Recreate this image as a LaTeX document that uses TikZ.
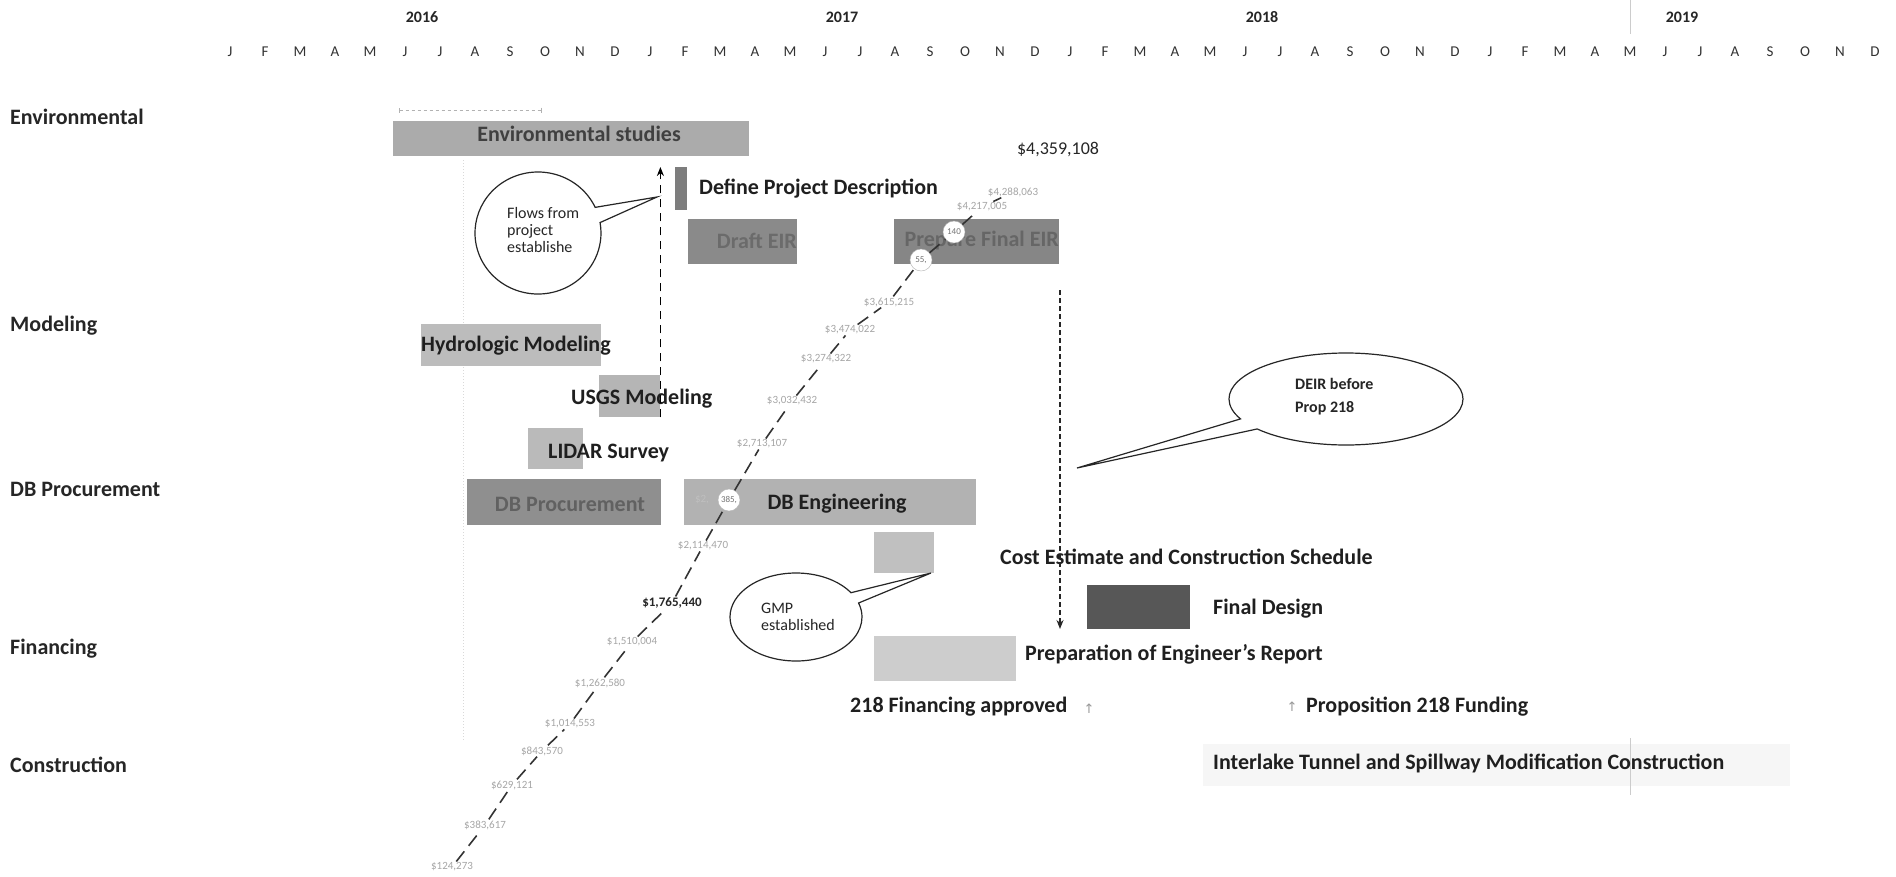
\documentclass[tikz,border=0pt]{standalone}
\usepackage{fontspec}
\setmainfont{Carlito}
\newfontfamily\djv{DejaVu Sans}
\usetikzlibrary{shapes.callouts,arrows.meta}
\definecolor{barA}{HTML}{ABABAB}
\definecolor{barDef}{HTML}{7D7D7D}
\definecolor{barEIR}{HTML}{8A8A8A}
\definecolor{barHyd}{HTML}{BCBCBC}
\definecolor{barUsgs}{HTML}{B5B5B5}
\definecolor{barLid}{HTML}{BABABA}
\definecolor{barProc}{HTML}{8F8F8F}
\definecolor{barEng}{HTML}{B2B2B2}
\definecolor{barCost}{HTML}{C0C0C0}
\definecolor{barFin}{HTML}{575757}
\definecolor{barPrep}{HTML}{CDCDCD}
\definecolor{barCon}{HTML}{F6F6F6}
\begin{document}
\begin{tikzpicture}[x=1pt,y=-1pt,
  rowlab/.style={anchor=west, inner sep=0, font=\fontsize{22}{26}\selectfont\bfseries, text=black!85},
  yearlab/.style={inner sep=0, font=\fontsize{16}{19}\selectfont\bfseries, text=black!85},
  monthlab/.style={inner sep=0, font=\fontsize{15}{18}\selectfont, text=black!80},
  bar/.style={draw=none, inner sep=0, anchor=north west},
  barlab/.style={inner sep=0, font=\fontsize{22}{26}\selectfont\bfseries, text=black!88},
  sidelab/.style={anchor=west, inner sep=0, font=\fontsize{22}{26}\selectfont\bfseries, text=black!88},
  dollar/.style={inner sep=1pt, font=\fontsize{11}{13}\selectfont, text=black!35},
  dotc/.style={circle, draw=black!30, fill=white, inner sep=0, minimum size=22pt, font=\fontsize{9}{10}\selectfont, text=black!55},
  diag/.style={draw=black!80, line width=1.6pt, dash pattern=on 13pt off 7pt},
  vdash/.style={draw=black, line width=1.6pt, dash pattern=on 8pt off 6pt, -{Stealth[length=9pt,width=7pt]}},
  vdashfine/.style={draw=black!85, line width=1.4pt, dash pattern=on 5pt off 3pt, -{Stealth[length=9pt,width=7pt]}},
  bubble/.style={ellipse callout, draw=black!85, line width=1.2pt, fill=white, inner sep=0},
  bubtext/.style={inner sep=0, align=left, font=\fontsize{16}{17}\selectfont, text=black!85}
]
\useasboundingbox[fill=white] (0,0) rectangle (1896,876);

% header
\node[yearlab] (y2016) at (422,17) {2016};
\node[yearlab] (y2017) at (842,17) {2017};
\node[yearlab] (y2018) at (1262,17) {2018};
\node[yearlab] (y2019) at (1682,17) {2019};
\foreach \m [count=\i from 0] in {J,F,M,A,M,J,J,A,S,O,N,D,J,F,M,A,M,J,J,A,S,O,N,D,J,F,M,A,M,J,J,A,S,O,N,D,J,F,M,A,M,J,J,A,S,O,N,D}
  \node[monthlab] (mon\i) at (230+35*\i,52) {\m};

% faint guide lines
\coordinate (g1a) at (1630,0); \coordinate (g1b) at (1630,34);
\draw[black!20, line width=0.8pt] (g1a) -- (g1b);
\coordinate (g2a) at (463,160); \coordinate (g2b) at (463,740);
\draw[black!15, line width=1pt, dotted] (g2a) -- (g2b);

% row labels
\node[rowlab] (rEnv) at (10,117) {Environmental};
\node[rowlab] (rMod) at (10,326) {Modeling};
\node[rowlab] (rDB) at (10,489) {DB Procurement};
\node[rowlab] (rFin) at (10,649) {Financing};
\node[rowlab] (rCon) at (10,765) {Construction};

% bars
\node[bar, fill=barA, minimum width=356pt, minimum height=35pt] (envbar) at (393,121) {};
\node[bar, fill=barDef, minimum width=12pt, minimum height=43pt] (defbar) at (675,167) {};
\node[bar, fill=barEIR, minimum width=109pt, minimum height=45pt] (drafteir) at (688,219) {};
\node[bar, fill=barEIR!97!black, minimum width=165pt, minimum height=45pt] (finaleir) at (894,219) {};
\node[bar, fill=barHyd, minimum width=180pt, minimum height=42pt] (hydro) at (421,324) {};
\node[bar, fill=barUsgs, minimum width=61pt, minimum height=42pt] (usgs) at (599,375) {};
\node[bar, fill=barLid, minimum width=55pt, minimum height=41pt] (lidar) at (528,428) {};
\node[bar, fill=barProc, minimum width=194pt, minimum height=46pt] (dbproc) at (467,479) {};
\node[bar, fill=barEng, minimum width=292pt, minimum height=46pt] (dbeng) at (684,479) {};
\node[bar, fill=barCost, minimum width=60pt, minimum height=41pt] (costbar) at (874,532) {};
\node[bar, fill=barFin, minimum width=103pt, minimum height=44pt] (finaldes) at (1087,585) {};
\node[bar, fill=barPrep, minimum width=142pt, minimum height=45pt] (prepbar) at (874,636) {};
\node[bar, fill=barCon, minimum width=587pt, minimum height=42pt] (constr) at (1203,744) {};
\coordinate (g3a) at (1630,738); \coordinate (g3b) at (1630,795);
\draw[black!20, line width=0.8pt] (g3a) -- (g3b);

% faint arrow above environmental studies
\coordinate (fa1) at (399,110); \coordinate (fa2) at (542,110);
\draw[black!30, line width=0.8pt, dash pattern=on 3pt off 3pt, {Bar[width=5pt]}-{Bar[width=5pt]}] (fa1) -- (fa2);

% bar labels
\node[barlab, text=black!75] (tEnv) at (579,134) {Environmental studies};
\node[sidelab] (tDef) at (699,189) {Define Project Description};
\node[barlab, anchor=east, text=black!58] (tDraft) at (797,241) {Draft EIR};
\node[barlab, anchor=east, text=black!60] (tFinal) at (1059,241) {Prepare Final EIR};
\node[barlab, anchor=west] (tHyd) at (421,346) {Hydrologic Modeling};
\node[barlab, anchor=west] (tUsgs) at (571,399) {USGS Modeling};
\node[barlab, anchor=west] (tLid) at (548,453) {LIDAR Survey};
\node[barlab, text=black!62] (tProc) at (570,504) {DB Procurement};
\node[barlab] (tEng) at (837,504) {DB Engineering};
\node[sidelab] (tCost) at (1000,557) {Cost Estimate and Construction Schedule};
\node[sidelab] (tFinD) at (1213,609) {Final Design};
\node[sidelab] (tPrep) at (1025,654) {Preparation of Engineer{\char"0027}s Report};
\node[sidelab] (t218) at (850,707) {218 Financing approved};
\node[inner sep=0, font=\djv\fontsize{13}{15}\selectfont, text=black!40] (up1) at (1089,709) {↑};
\node[inner sep=0, font=\djv\fontsize{13}{15}\selectfont, text=black!40] (up2) at (1292,707) {↑};
\node[sidelab] (tProp) at (1306,707) {Proposition 218 Funding};
\node[sidelab] (tCon) at (1213,763) {Interlake Tunnel and Spillway Modification Construction};
\node[inner sep=0, font=\fontsize{18}{21}\selectfont, text=black!85] (total) at (1058,149) {\$4,359,108};

% dashed vertical arrows
\draw[vdash] (usgs.south east) -- (usgs.south east |- defbar.north);
\coordinate (a2s) at (1060,290);
\coordinate (a2e) at (1060,629);
\draw[vdashfine] (a2s) -- (a2e);

% cumulative cost line
\node[dollar] (d1) at (452,867) {\$124,273};
\node[dollar] (d2) at (485,825) {\$383,617};
\node[dollar] (d3) at (512,785) {\$629,121};
\node[dollar] (d4) at (542,751) {\$843,570};
\node[dollar] (d5) at (570,724) {\$1,014,553};
\node[dollar] (d6) at (600,683) {\$1,262,580};
\node[dollar] (d7) at (632,642) {\$1,510,004};
\node[inner sep=1pt, font=\fontsize{13}{15}\selectfont\bfseries, text=black!85] (d8) at (672,603) {\$1,765,440};
\node[dollar] (d9) at (703,546) {\$2,114,470};
\node[dollar, fill=barEng, text=black!25] (d9b) at (702,500) {\$2,};
\node[dotc] (c1) at (729,500) {385,};
\node[dollar] (d10) at (762,444) {\$2,713,107};
\node[dollar] (d11) at (792,401) {\$3,032,432};
\node[dollar] (d12) at (826,359) {\$3,274,322};
\node[dollar] (d13) at (850,330) {\$3,474,022};
\node[dollar] (d14) at (889,302) {\$3,615,215};
\node[dotc] (c2) at (921,260) {55,};
\node[dotc] (c3) at (954,232) {140};
\node[dollar] (d15) at (982,207) {\$4,217,005};
\node[dollar] (d16) at (1013,192) {\$4,288,063};
\draw[diag] (d1) -- (d2) -- (d3) -- (d4) -- (d5) -- (d6) -- (d7) -- (d8) -- (d9) -- (c1) -- (d10) -- (d11) -- (d12) -- (d13) -- (d14) -- (c2) -- (c3) -- (d15) -- (d16);

% callouts
\coordinate (tipFlows) at (657,197);
\node[bubble, minimum width=126pt, minimum height=122pt, callout absolute pointer={(tipFlows)}] (flows) at (538,233) {};
\node[bubtext, anchor=north west] (flowsT) at (507,207) {Flows from\\project\\establishe};
\coordinate (tipGmp) at (931,573);
\node[bubble, minimum width=132pt, minimum height=88pt, callout absolute pointer={(tipGmp)}] (gmp) at (796,617) {};
\node[bubtext] (gmpT) at (798,617) {GMP\\established};
\coordinate (tipDeir) at (1077,468);
\node[bubble, minimum width=234pt, minimum height=92pt, callout absolute pointer={(tipDeir)}] (deir) at (1346,399) {};
\node[bubtext, font=\fontsize{16}{23}\selectfont\bfseries, anchor=west] (deirT) at (1295,397) {DEIR before\\Prop 218};
\end{tikzpicture}
\end{document}
